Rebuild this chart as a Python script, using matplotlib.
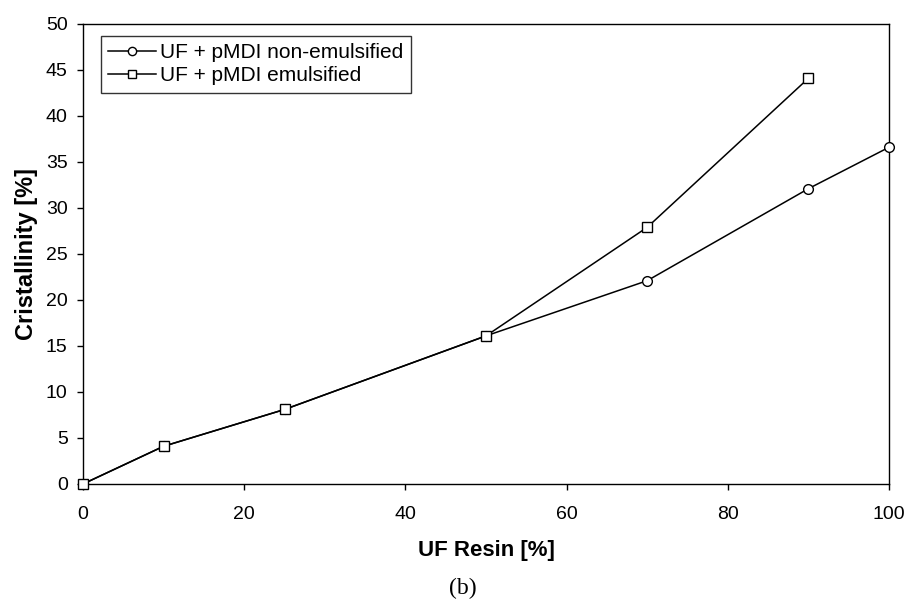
import matplotlib
matplotlib.use('Agg')
import matplotlib.pyplot as plt

# Data
resin_nonemul = [0, 10, 25, 50, 70, 90, 100]
cryst_nonemul = [0, 4.1, 8.1, 16.1, 22.1, 32.1, 36.6]

resin_emul = [0, 10, 25, 50, 70, 90]
cryst_emul = [0, 4.1, 8.1, 16.1, 27.9, 44.1]

plt.rcParams['font.family'] = ['Liberation Sans', 'DejaVu Sans']

fig = plt.figure(figsize=(9.09, 5.99), dpi=100)
ax = fig.add_axes([83 / 909, 115 / 599, 806 / 909, 460 / 599])

ax.plot(resin_nonemul, cryst_nonemul, color='black', lw=1.1, marker='o',
        markersize=7, markerfacecolor='white', markeredgecolor='black',
        markeredgewidth=1.0, label='UF + pMDI non-emulsified', clip_on=False, zorder=3)
ax.plot(resin_emul, cryst_emul, color='black', lw=1.1, marker='s',
        markersize=7, markerfacecolor='white', markeredgecolor='black',
        markeredgewidth=1.0, label='UF + pMDI emulsified', clip_on=False, zorder=3)

ax.set_xlim(0, 100)
ax.set_ylim(0, 50)
ax.set_xticks(range(0, 101, 20))
ax.set_yticks(range(0, 51, 5))
ax.tick_params(axis='both', direction='out', length=4, width=1, labelsize=14)
ax.tick_params(axis='x', pad=12)
ax.tick_params(axis='y', pad=7)
for s in ax.spines.values():
    s.set_linewidth(1.0)

ax.set_xlabel('UF Resin [%]', fontsize=16, fontweight='bold', labelpad=12)
ax.set_ylabel('Cristallinity [%]', fontsize=17, fontweight='bold', labelpad=6)

leg = ax.legend(loc='upper left', bbox_to_anchor=(0.022, 0.974), borderaxespad=0,
                fontsize=15, handlelength=2.3, handletextpad=0.2, labelspacing=0.2,
                fancybox=False, frameon=True, edgecolor='black', borderpad=0.35,
                markerscale=0.85)
leg.get_frame().set_linewidth(1.0)

fig.text(463 / 909, 1 - 588 / 599, '(b)', ha='center', va='center', fontsize=17,
         family=['Liberation Serif', 'DejaVu Serif'])

fig.savefig('out.png', dpi=100)
